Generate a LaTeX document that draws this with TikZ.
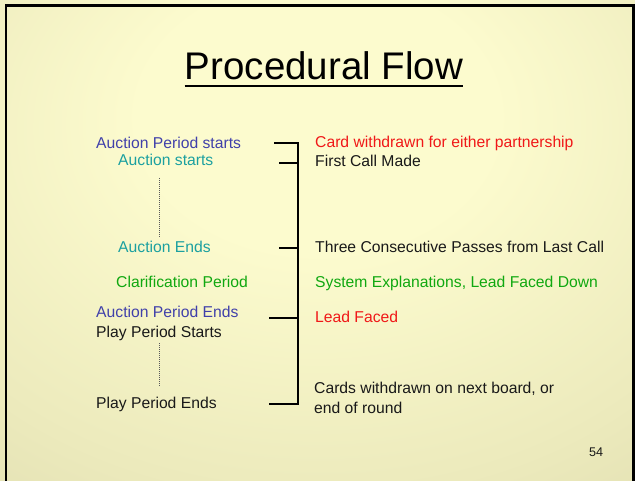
\documentclass[tikz,border=0pt]{standalone}
\usepackage{fontspec}
\setmainfont{Liberation Sans}
\usetikzlibrary{positioning}

\definecolor{bglite}{RGB}{252,251,206}
\definecolor{bgmid}{RGB}{236,234,188}
\definecolor{bgdark}{RGB}{215,212,168}
\definecolor{periodblue}{RGB}{64,64,170}
\definecolor{auctionteal}{RGB}{27,160,160}
\definecolor{clargreen}{RGB}{16,168,16}
\definecolor{leadred}{RGB}{240,24,24}
\definecolor{plaintxt}{RGB}{25,25,25}

\pgfdeclareradialshading{slidebg}{\pgfpoint{0bp}{15bp}}{color(0bp)=(bglite); color(14bp)=(bglite); color(36bp)=(bgmid); color(58bp)=(bgdark); color(100bp)=(bgdark)}

\begin{document}
\begin{tikzpicture}[x=1pt, y=-1pt,
    titletxt/.style={anchor=base, inner sep=0pt, font=\fontsize{38.5}{44}\selectfont},
    steptxt/.style={anchor=base west, inner sep=0pt, font=\fontsize{15.7}{20}\selectfont},
    bracket/.style={line width=2pt},
    gapline/.style={draw=black!65, line width=1pt, dash pattern=on 1pt off 1pt}]

    \useasboundingbox (0,0) rectangle (635,481);
    \shade[shading=slidebg] (0,0) rectangle (635,481);
    \draw[line width=2.5pt] (6,481) -- (6,5.5) -- (633.5,5.5) -- (633.5,481);

    % title
    \node (title) [titletxt] at (324,80) {Procedural Flow};
    \draw[line width=2.8pt] ([yshift=-6pt]title.base west) -- ([yshift=-6pt]title.base east);

    % left column
    \node (auction_period_starts) [steptxt, periodblue] at (96,148.5) {Auction Period starts};
    \node (auction_starts) [steptxt, auctionteal] at (118,165.5) {Auction starts};
    \node (auction_ends) [steptxt, auctionteal] at (118,252.5) {Auction Ends};
    \node (clarification) [steptxt, clargreen] at (116,287.5) {Clarification Period};
    \node (auction_period_ends) [steptxt, periodblue] at (96,317.5) {Auction Period Ends};
    \node (play_starts) [steptxt, plaintxt] at (96,337.5) {Play Period Starts};
    \node (play_ends) [steptxt, plaintxt] at (96,408.5) {Play Period Ends};

    % right column
    \node (card_withdrawn) [steptxt, leadred] at (315,147.5) {Card withdrawn for either partnership};
    \node (first_call) [steptxt, plaintxt] at (315,166.5) {First Call Made};
    \node (three_passes) [steptxt, plaintxt] at (315,252.5) {Three Consecutive Passes from Last Call};
    \node (explanations) [steptxt, clargreen] at (315,287.5) {System Explanations, Lead Faced Down};
    \node (lead_faced) [steptxt, leadred] at (315,323) {Lead Faced};
    \node (next_board) [steptxt, plaintxt, anchor=west, align=left] at (314,398) {Cards withdrawn on next board, or\\end of round};

    \node (page_no) [anchor=base west, inner sep=0pt, plaintxt, font=\fontsize{12.6}{15}\selectfont] at (589,456) {54};

    % dotted gaps
    \coordinate (gap1_top) at (159,178);
    \coordinate (gap1_bot) at (159,238);
    \coordinate (gap2_top) at (159,343);
    \coordinate (gap2_bot) at (159,387);
    \draw[gapline] (gap1_top) -- (gap1_bot);
    \draw[gapline] (gap2_top) -- (gap2_bot);

    % bracket
    \coordinate (spine_top) at (298,143);
    \coordinate (spine_bot) at (298,404);
    \coordinate (tick_top) at (274,143);
    \coordinate (tick_bot) at (269,404);
    \draw[bracket] (tick_top) -- (spine_top) -- (spine_bot) -- (tick_bot);
    \foreach \ty/\tx in {163/279, 248/279, 318/269}
        \draw[bracket] (\tx,\ty) -- (298,\ty);
\end{tikzpicture}
\end{document}
